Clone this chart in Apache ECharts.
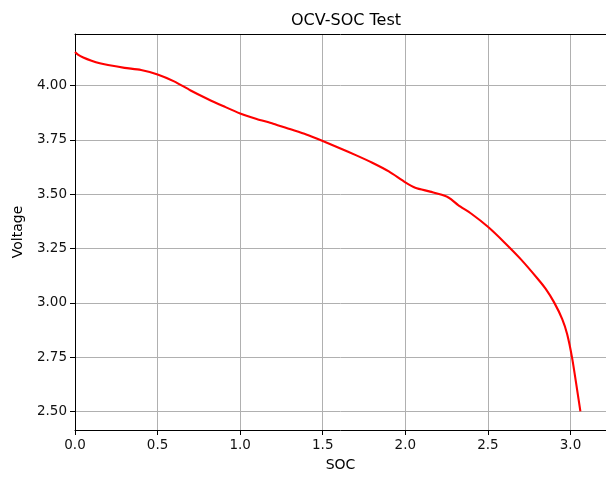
<!DOCTYPE html>
<html>
<head>
<meta charset="utf-8">
<script src="https://cdn.jsdelivr.net/npm/echarts@6/dist/echarts.min.js"></script>
<style>html,body{margin:0;padding:0;background:#fff}#c{width:606px;height:477px}</style>
</head>
<body>
<div id="c"></div>
<script>
const soc = [0, 0.02, 0.05, 0.1, 0.15, 0.2, 0.3, 0.4, 0.5, 0.6, 0.7, 0.8, 0.9, 1.0, 1.1, 1.2, 1.3, 1.4, 1.5, 1.6, 1.7, 1.8, 1.9, 2.0, 2.06, 2.15, 2.25, 2.28, 2.32, 2.4, 2.5, 2.6, 2.7, 2.8, 2.85, 2.9, 2.95, 2.98, 3.01, 3.04, 3.06];
const voltage = [4.155, 4.142, 4.13, 4.115, 4.103, 4.095, 4.082, 4.072, 4.052, 4.02, 3.978, 3.94, 3.905, 3.872, 3.847, 3.825, 3.80, 3.775, 3.745, 3.713, 3.68, 3.645, 3.605, 3.555, 3.53, 3.512, 3.49, 3.475, 3.45, 3.41, 3.35, 3.278, 3.2, 3.112, 3.064, 3.003, 2.925, 2.855, 2.745, 2.60, 2.50];
const xTicks = [0, 0.5, 1.0, 1.5, 2.0, 2.5, 3.0];
const yTicks = [2.5, 2.75, 3.0, 3.25, 3.5, 3.75, 4.0];

const chart = echarts.init(document.getElementById('c'), null, {renderer: 'canvas'});
const font = 'DejaVu Sans';
chart.setOption({
  animation: false,
  backgroundColor: '#ffffff',
  title: {
    text: 'OCV-SOC Test', left: 341, top: 8, textAlign: 'center',
    textStyle: {fontFamily: font, fontSize: 16, fontWeight: 'normal', color: '#000'}
  },
  grid: {left: 75, right: -2, top: 34, bottom: 46, containLabel: false},
  xAxis: [{
    type: 'value', min: 0, max: 3.215,
    name: 'SOC', nameLocation: 'middle', nameGap: 28,
    nameTextStyle: {fontFamily: font, fontSize: 14, color: '#000'},
    axisLine: {show: true, onZero: false, lineStyle: {color: '#000', width: 1}},
    axisTick: {show: true, inside: false, length: 5, customValues: xTicks, lineStyle: {color: '#000', width: 1}},
    axisLabel: {customValues: xTicks, formatter: v => v.toFixed(1), margin: 8, fontFamily: font, fontSize: 13.5, color: '#111'},
    splitLine: {show: true, lineStyle: {color: '#b0b0b0', width: 1}}
  }, {
    type: 'value', position: 'top', min: 0, max: 3.215,
    axisLine: {show: true, lineStyle: {color: '#000', width: 1}},
    axisTick: {show: false}, axisLabel: {show: false}, splitLine: {show: false}
  }],
  yAxis: {
    type: 'value', min: 2.414, max: 4.238,
    name: 'Voltage', nameLocation: 'middle', nameGap: 50, nameRotate: 90,
    nameTextStyle: {fontFamily: font, fontSize: 14, color: '#000'},
    axisLine: {show: true, onZero: false, lineStyle: {color: '#000', width: 1}},
    axisTick: {show: true, inside: false, length: 5, customValues: yTicks, lineStyle: {color: '#000', width: 1}},
    axisLabel: {customValues: yTicks, formatter: v => v.toFixed(2), margin: 8, fontFamily: font, fontSize: 13.5, color: '#111'},
    splitLine: {show: true, lineStyle: {color: '#b0b0b0', width: 1}}
  },
  series: [{
    type: 'line',
    data: soc.map((s, i) => [s, voltage[i]]),
    showSymbol: false, smooth: 0.25,
    lineStyle: {color: '#ff0000', width: 2.1},
    z: 5
  }]
});
</script>
</body>
</html>
